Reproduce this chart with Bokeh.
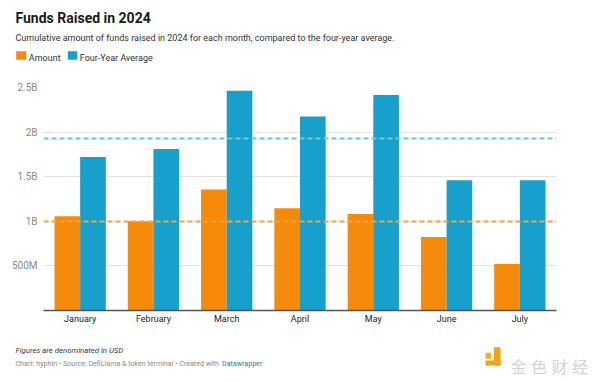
from bokeh.plotting import figure
from bokeh.layouts import column
from bokeh.models import (ColumnDataSource, FactorRange, Range1d, Span, FixedTicker)
from bokeh.core.properties import value
from bokeh.transform import dodge
from bokeh.embed import file_html
from bokeh.resources import INLINE

months = ["January", "February", "March", "April", "May", "June", "July"]
amount = [1.056, 1.00, 1.356, 1.146, 1.082, 0.824, 0.52]          # billions USD
four_year_avg = [1.72, 1.81, 2.464, 2.176, 2.416, 1.46, 1.46]     # billions USD
tick_values = [0, 0.5, 1.0, 1.5, 2.0, 2.5]
tick_labels = ["", "500M", "1B", "1.5B", "2B", "2.5B"]
series_names = ["Amount", "Four-Year Average"]

ORANGE = "#f68b0b"
BLUE = "#18a0cd"
FONT = "Roboto"
W = 600


def blank(h):
    f = figure(width=W, height=h, x_range=Range1d(0, W), y_range=Range1d(0, h),
               output_backend="svg", toolbar_location=None, min_border=0,
               x_axis_location=None, y_axis_location=None, frame_align=False)
    f.grid.visible = False
    f.outline_line_color = None
    return f


def txt(f, x, y, s, size, color="#333333", style="normal", font=FONT):
    f.text(x=[x], y=[y], text=[s], text_font=value(font), text_font_size=size,
           text_color=color, text_font_style=style, text_baseline="alphabetic",
           text_align="left")


# ---------- header (data coords = page pixels, y up from the header bottom) ----------
HH = 79
head = blank(HH)
txt(head, 15, 61.7, "Funds Raised in 2024", "14px", "#1a1a1a", "bold")
txt(head, 15, 41.3, "Cumulative amount of funds raised in 2024 for each month, compared to the four-year average.",
    "9px", "#333333")
head.quad(left=[15.7, 67.3], right=[25.7, 76.7], bottom=[19.7, 19.7], top=[28.3, 28.3],
          fill_color=[ORANGE, BLUE], line_color=None)
txt(head, 28.3, 21.3, series_names[0], "9px", "#333333")
txt(head, 79.3, 21.3, series_names[1], "9px", "#333333")

# ---------- main chart ----------
src = ColumnDataSource(dict(month=months, amount=amount, avg=four_year_avg))
p = figure(width=W, height=251, x_range=FactorRange(factors=months, range_padding=0),
           y_range=Range1d(0, 2.5), output_backend="svg", toolbar_location=None,
           min_border_left=43, min_border_right=44, min_border_top=8, min_border_bottom=20,
           frame_align=False)
p.outline_line_color = None

p.vbar(x=dodge("month", -0.175, range=p.x_range), top="amount", width=0.35,
       source=src, color=ORANGE, line_color=None)
p.vbar(x=dodge("month", 0.175, range=p.x_range), top="avg", width=0.35,
       source=src, color=BLUE, line_color=None)

avg_amount = sum(amount) / len(amount)
avg_avg = sum(four_year_avg) / len(four_year_avg)
p.add_layout(Span(location=avg_amount, dimension="width", line_color="#f5a43a",
                  line_width=2, line_dash="5 3"))
p.add_layout(Span(location=avg_avg, dimension="width", line_color="#6fc8d8",
                  line_width=2, line_dash="5 3"))

p.yaxis.ticker = FixedTicker(ticks=tick_values)
p.yaxis.major_label_overrides = {v: l for v, l in zip(tick_values, tick_labels)}
p.yaxis.axis_line_color = None
p.yaxis.major_tick_line_color = None
p.yaxis.minor_tick_line_color = None
p.yaxis.major_tick_out = 0
p.yaxis.major_tick_in = 0
p.yaxis.minor_tick_out = 0
p.yaxis.major_label_standoff = 6
p.yaxis.major_label_text_font = FONT
p.yaxis.major_label_text_font_size = "10px"
p.yaxis.major_label_text_color = "#8a8a8a"

p.xaxis.axis_line_color = "#555555"
p.xaxis.axis_line_width = 1.5
p.xaxis.major_tick_line_color = None
p.xaxis.minor_tick_line_color = None
p.xaxis.major_tick_out = 0
p.xaxis.major_tick_in = 0
p.xaxis.minor_tick_out = 0
p.xaxis.major_label_standoff = 3
p.xaxis.major_label_text_font = FONT
p.xaxis.major_label_text_font_size = "9px"
p.xaxis.major_label_text_color = "#222222"
p.xgrid.grid_line_color = None
p.ygrid.grid_line_color = "#e3e3e3"
p.ygrid.grid_line_width = 1

# ---------- footer (data coords = page pixels, y up from the page bottom) ----------
FH = 52
foot = blank(FH)
txt(foot, 15, 32, "Figures are denominated in USD", "7.8px", "#3a3a3a", "italic")
txt(foot, 15, 18.7, "Chart: hyphin \u2022 Source: DefiLlama & token terminal \u2022 Created with", "7.1px", "#8a8a8a")
txt(foot, 221.5, 18.7, "Datawrapper", "7.1px", "#1d7fa1")
foot.text(x=[510, 530.5, 551, 571.5], y=[17] * 4, text=["\u91d1", "\u8272", "\u8d22", "\u7ecf"],
          text_font=value("Noto Sans CJK SC"), text_font_size="16px", text_color="#d2d2d2",
          text_baseline="alphabetic", text_align="left")
foot.quad(left=[485, 493.3, 485], right=[490.7, 500, 500], bottom=[23.7, 17, 17], top=[29.7, 35.3, 22],
          fill_color=["#f2b21b", "#eea41a", "#eea41a"], line_color=None)

layout = column(head, p, foot, spacing=0)
open("out.html", "w").write(file_html(layout, INLINE))
